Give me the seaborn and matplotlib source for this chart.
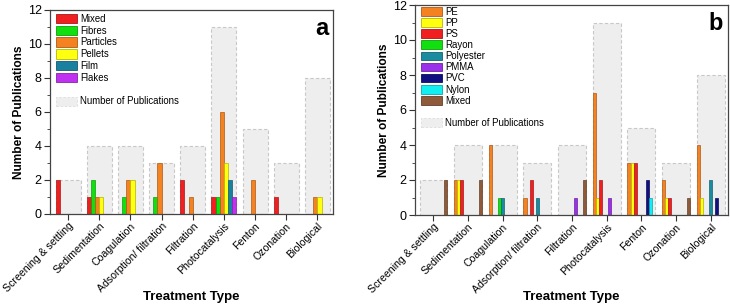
import matplotlib
matplotlib.use("Agg")
import matplotlib.pyplot as plt
import matplotlib.patches as mpatches
from matplotlib.ticker import MultipleLocator
import seaborn as sns
import pandas as pd

categories = ["Screening & settling", "Sedimentation", "Coagulation", "Adsorption/ filtration",
              "Filtration", "Photocatalysis", "Fenton", "Ozonation", "Biological"]
total_pubs = [2, 4, 4, 3, 4, 11, 5, 3, 8]

# Panel a: morphology
shapes = ["Mixed", "Fibres", "Particles", "Pellets", "Film", "Flakes"]
shape_colors = ["#F02020", "#10E010", "#F58220", "#FFFF10", "#1A80A0", "#C030F0"]
a_mixed     = [2, 1, 0, 0, 2, 1, 0, 1, 0]
a_fibres    = [0, 2, 1, 1, 0, 1, 0, 0, 0]
a_particles = [0, 1, 2, 3, 1, 6, 2, 0, 1]
a_pellets   = [0, 1, 2, 0, 0, 3, 0, 0, 1]
a_film      = [0, 0, 0, 0, 0, 2, 0, 0, 0]
a_flakes    = [0, 0, 0, 0, 0, 1, 0, 0, 0]

# Panel b: polymer type
polymers = ["PE", "PP", "PS", "Rayon", "Polyester", "PMMA", "PVC", "Nylon", "Mixed"]
polymer_colors = ["#F58220", "#FFFF10", "#F02020", "#10E010", "#1A8CA0", "#9A30E8",
                  "#101080", "#10F0F0", "#8E5A3A"]
b_pe        = [0, 2, 4, 1, 0, 7, 3, 2, 4]
b_pp        = [0, 2, 0, 0, 0, 1, 3, 1, 1]
b_ps        = [0, 2, 0, 2, 0, 2, 3, 1, 0]
b_rayon     = [0, 0, 1, 0, 0, 0, 0, 0, 0]
b_polyester = [0, 0, 1, 1, 0, 0, 0, 0, 2]
b_pmma      = [0, 0, 0, 0, 1, 1, 0, 0, 0]
b_pvc       = [0, 0, 0, 0, 0, 0, 2, 0, 1]
b_nylon     = [0, 0, 0, 0, 0, 0, 1, 0, 0]
b_mixed     = [2, 2, 0, 0, 2, 0, 0, 1, 0]

plt.rcParams['font.family'] = ['Liberation Sans', 'DejaVu Sans']


def long_df(series_names, series_vals):
    rows = []
    for name, vals in zip(series_names, series_vals):
        for cat, v in zip(categories, vals):
            if v > 0:
                rows.append({"Treatment": cat, "Group": name, "Count": v})
    return pd.DataFrame(rows)


def darker(c, f=0.7):
    r, g, b = matplotlib.colors.to_rgb(c)
    return (r * f, g * f, b * f)


def draw_panel(ax, names, colors, vals, letter, xlim, lspace, hheight, anchor_y):
    tot = pd.DataFrame({"Treatment": categories, "Count": total_pubs})
    sns.barplot(data=tot, x="Treatment", y="Count", order=categories, ax=ax,
                color="#EEEEEE", width=0.8, saturation=1, errorbar=None,
                edgecolor="#C8C8C8", linewidth=0.8, linestyle=(0, (3, 2)), zorder=1)
    df = long_df(names, vals)
    sns.barplot(data=df, x="Treatment", y="Count", hue="Group", order=categories,
                hue_order=names, palette=colors, ax=ax, width=0.8, saturation=1,
                errorbar=None, dodge=True, legend=False, zorder=2)
    for p in ax.patches[len(categories):]:
        p.set_edgecolor(darker(p.get_facecolor()))
        p.set_linewidth(0.5)
    ax.set_ylim(0, 12)
    ax.set_xlim(*xlim)
    ax.yaxis.set_major_locator(MultipleLocator(2))
    ax.yaxis.set_minor_locator(MultipleLocator(1))
    ax.tick_params(axis='both', which='both', direction='out', color="#333333")
    ax.tick_params(axis='y', labelsize=9, length=4, pad=2)
    ax.tick_params(axis='y', which='minor', length=2.5)
    ax.tick_params(axis='x', labelsize=7.6, length=4, pad=1)
    ax.set_xticks(range(len(categories)))
    ax.set_xticklabels(categories, rotation=45, ha='right', rotation_mode='anchor')
    ax.set_xlabel("Treatment Type", fontsize=9.5, fontweight='bold', va='center')
    ax.set_ylabel("Number of Publications", fontsize=8.6, fontweight='bold', labelpad=2)
    for s in ax.spines.values():
        s.set_color("#444444")
        s.set_linewidth(0.9)
    ax.text(0.985, 0.965, letter, transform=ax.transAxes, ha='right', va='top',
            fontsize=17, fontweight='bold')
    handles = [mpatches.Patch(facecolor=c, edgecolor=darker(c), linewidth=0.6, label=n)
               for n, c in zip(names, colors)]
    handles.append(mpatches.Patch(facecolor='none', edgecolor='none', label=" "))
    handles.append(mpatches.Patch(facecolor="#EEEEEE", edgecolor="#DDDDDD",
                                  linestyle=(0, (3, 2)), linewidth=0.6,
                                  label="Number of Publications"))
    ax.legend(handles=handles, loc='upper left', frameon=False, fontsize=6.9,
              handlelength=2.2, handleheight=hheight, labelspacing=lspace,
              handletextpad=0.35, borderaxespad=0.2, bbox_to_anchor=(0.0, anchor_y))


fig = plt.figure(figsize=(7.3, 3.05), dpi=100)
ax1 = fig.add_axes([50 / 730, 1 - 214 / 305, 283 / 730, 204 / 305])
ax2 = fig.add_axes([415 / 730, 1 - 215 / 305, 313 / 730, 210 / 305])

draw_panel(ax1, shapes, shape_colors,
           [a_mixed, a_fibres, a_particles, a_pellets, a_film, a_flakes], "a",
           (-0.58, 8.5), 0.19, 1.1, 1.01)
draw_panel(ax2, polymers, polymer_colors,
           [b_pe, b_pp, b_ps, b_rayon, b_polyester, b_pmma, b_pvc, b_nylon, b_mixed],
           "b", (-0.53, 8.5), 0.12, 1.0, 1.02)
# x-label centres at y = 297 px from top
for ax, bottom_px, h in [(ax1, 214, 204), (ax2, 215, 210)]:
    ax.xaxis.set_label_coords(0.5, -(297 - bottom_px) / h)

fig.savefig("out.png", dpi=100)
